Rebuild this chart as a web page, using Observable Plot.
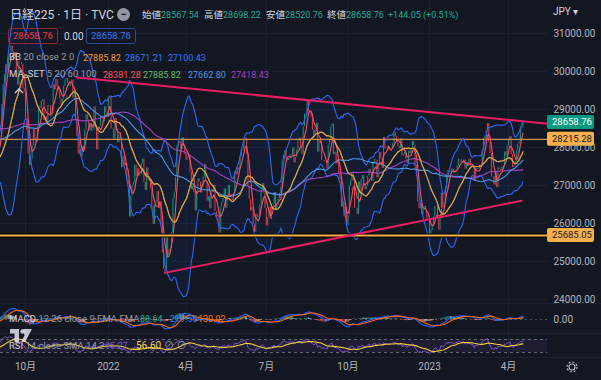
<!DOCTYPE html>
<html><head><meta charset="utf-8">
<script src="https://cdn.jsdelivr.net/npm/d3@7"></script>
<script src="https://cdn.jsdelivr.net/npm/@observablehq/plot@0.6"></script>
<style>
html,body{margin:0;padding:0;background:#131722;}
#chart{position:relative;width:601px;height:380px;overflow:hidden;background:#131722;font-family:Roboto,"Noto Sans CJK JP",sans-serif;}
#chart svg{position:absolute;left:0;overflow:visible;}
.t{position:absolute;white-space:nowrap;font-size:10px;line-height:12px;color:#d1d4dc;}
.l{font-size:9.5px;}
.v{font-size:9px;}
.g{color:#9598a1;}
.box{position:absolute;height:16px;line-height:14px;font-size:9.5px;padding:0 4px;border:1px solid;border-radius:3px;box-sizing:border-box;}
.sep{position:absolute;left:0;width:601px;height:1px;background:#1f2330;}
</style></head><body><div id="chart"></div>
<script>
// ---------- data ----------
const months = ["2021-04","2021-05","2021-06","2021-07","2021-08","2021-09","2021-10","2021-11","2021-12",
  "2022-01","2022-02","2022-03","2022-04","2022-05","2022-06","2022-07","2022-08","2022-09","2022-10","2022-11","2022-12",
  "2023-01","2023-02","2023-03","2023-04"];
const closes = [
  [29388,29854,30089,29696,29730,29708,29768,29538,29751,29620,29642,29683,29685,29100,28508,29188,29020,29126,28991,29053,28812],
  [29331,29357,29518,28608,28147,27448,28084,27824,28406,28044,28098,28317,28364,28553,28642,28549,29149,28860],
  [28814,28946,29058,28941,29019,28963,28860,28958,28948,29161,29441,29291,29018,28964,28010,28884,28874,29066,28875,29048,28812,28791],
  [28707,28783,28598,28643,28366,27940,28118,28569,28718,28608,28279,28003,27652,27388,27548,27970,27833,27581,27782,27283],
  [27781,27641,27584,27728,27820,27888,28070,28015,27977,27523,27585,27424,27281,27013,27494,27732,27724,27742,27641,27789,28089],
  [28451,28543,29128,29659,29916,30181,30008,30381,30447,30670,30511,30323,30500,29839,29639,30248,30240,30183,29544,29452],
  [28771,28444,27822,27528,27678,28048,28498,28230,28140,28550,29068,29025,29215,29255,28708,28804,28600,29106,29098,28820,28892],
  [29647,29520,29794,29611,29507,29285,29106,29277,29609,29776,29808,29688,29598,29745,29774,29302,29499,28751,28283,27821],
  [27935,27753,28029,27927,28455,28860,28725,28437,28640,28432,28459,29066,28545,27937,28517,28562,28798,28782,28676,29069,28906,28791],
  [29301,29332,28487,28478,28222,28765,28489,28124,28333,28257,27467,27772,27522,27588,27131,27011,26170,26717,27001],
  [27078,27533,27241,27439,27248,27284,27579,27696,27079,26865,27460,27232,27122,26910,26449,25970,26476,26526],
  [26844,26393,26577,25985,25221,24790,24717,25690,25163,25307,25346,25762,26652,26827,27224,28040,28110,28149,27943,28252,28027,27821],
  [27665,27736,27787,27350,26888,26985,26821,26334,26843,27172,27093,26799,26985,27217,27553,27105,26590,26700,26386,26847],
  [26818,27003,26319,26167,26213,25748,26427,26547,26659,26911,26402,26739,27001,26748,26677,26604,26781,27369,27279],
  [27457,27413,27761,27915,27943,28234,28246,27824,26987,26629,26326,26431,25963,25771,26246,26149,26171,26491,26871,27049,26804,26393],
  [25935,26153,26423,26107,26490,26517,26812,26336,26478,26643,26788,26961,27680,27803,27915,27699,27655,27715,27815,27801],
  [27993,27594,27742,27932,28175,28249,27999,27819,28546,28871,28868,29222,28942,28930,28794,28452,28313,28479,28641,27878,28195,28091],
  [27661,27650,27619,27626,27430,28065,28214,28542,28614,27818,27875,27567,27688,27313,27153,26431,26571,26173,26422,25937],
  [26215,26992,27120,27311,27116,26401,26397,26237,27090,26775,27156,27257,27006,26890,26974,27250,27431,27345,27105,27587],
  [27678,27663,27199,27527,27872,27716,27446,28263,27963,27990,28028,27930,27899,27944,28115,28383,28283,28162,28027,27968],
  [28226,27777,27820,27885,27686,27574,27901,27842,27954,28156,28051,27527,27237,26568,26387,26507,26235,26405,26447,26340,26093,26094],
  [25716,25820,25973,26175,26446,26449,26119,25822,26138,26791,26405,26553,26906,27299,27395,27362,27382,27433,27327],
  [27346,27402,27509,27693,27685,27606,27584,27670,27427,27602,27501,27696,27513,27531,27473,27104,27453,27423,27445],
  [27516,27498,27927,28237,28309,28444,28623,28143,27832,27222,27229,27010,27333,26945,27466,27419,27385,27476,27518,27883,27782,28041],
  [28188,28287,27813,27472,27518,27633,27923,28082,28156,28493,28514,28658.76]
];
const priceTicks = [24000,25000,26000,27000,28000,29000,30000,31000];
const levels = [28215.28, 25685.05];
const lastPrice = 28658.76;
const upperTrend = [{month:"2021-11", bar:18, v:29842}, {month:"2023-04", bar:11, v:28690}];
const lowerTrend = [{month:"2022-03", bar:6, v:24700}, {month:"2023-04", bar:10, v:26600}];
const headerLabels = ["始値","高値","安値","終値"];
const headerValues = ["28567.54","28698.22","28520.76","28658.76"];
const headerChange = "+144.05 (+0.51%)";
const bbValues = ["27885.82","28671.21","27100.43"];
const maValues = ["28381.28","27885.82","27662.80","27418.43"];
const macdValues = ["88.64","219.56","130.92"];
const rsiValues = ["65.27","56.60"];

// ---------- colors ----------
const BG="#131722", TXT="#b2b5be", UP="#089981", DN="#f23645", BB="#2f66f2", BASIS="#f59a3a",
  MA5="#f7525f", MA20="#4caf50", MA60="#4a9be8", MA100="#a540c4", PINK="#e91e63", LVL="#f7b04b", GRID="#1c2030";
const FONT = 'Roboto,"Noto Sans CJK JP",sans-serif';

// ---------- derived series ----------
const bars = [];
months.forEach((m, mi) => closes[mi].forEach((c, bi) => bars.push({i: bars.length, month: m, bar: bi, close: c})));
bars.forEach((d, i) => { d.open = i ? bars[i-1].close : d.close; });
const C = bars.map(d => d.close);
const sma = (arr, n) => arr.map((_, i) => i < n-1 ? NaN : d3.mean(arr.slice(i-n+1, i+1)));
const sd = (arr, n) => arr.map((_, i) => { if (i < n-1) return NaN; const s = arr.slice(i-n+1, i+1), m = d3.mean(s); return Math.sqrt(d3.mean(s, v => (v-m)**2)); });
const ema = (arr, n) => { const a = 2/(n+1); let p; return arr.map((v, i) => p = (i === 0 ? v : a*v + (1-a)*p)); };
const m5 = sma(C,5), m20 = sma(C,20), m60 = sma(C,60), m100 = sma(C,100), s20 = sd(C,20);
const e12 = ema(C,12), e26 = ema(C,26);
const macd = C.map((_, i) => e12[i] - e26[i]);
const sig = ema(macd, 9);
let up = 0, dn = 0;
const rsi = C.map((c, i) => {
  if (i === 0) return NaN;
  const ch = c - C[i-1], u = Math.max(ch, 0), d = Math.max(-ch, 0);
  if (i <= 14) { up += u/14; dn += d/14; if (i < 14) return NaN; }
  else { up = (up*13 + u)/14; dn = (dn*13 + d)/14; }
  return 100 - 100/(1 + up/dn);
});
const rsiMa = rsi.map((_, i) => i < 28 ? NaN : d3.mean(rsi.slice(i-13, i+1)));
bars.forEach((d, i) => Object.assign(d, {m5: m5[i], m20: m20[i], m60: m60[i], m100: m100[i],
  bbU: m20[i] + 2*s20[i], bbL: m20[i] - 2*s20[i], macd: macd[i], sig: sig[i], hist: macd[i]-sig[i], rsi: rsi[i], rsiMa: rsiMa[i]}));
bars.forEach((d, i) => { const p = i ? bars[i-1].hist : d.hist; d.hcol = d.hist >= 0 ? (d.hist >= p ? "#26a69a" : "#b2dfdb") : (d.hist <= p ? "#ff5252" : "#ffcdd2"); });

// ---------- x mapping (equal bar spacing, month labels) ----------
const iOct = bars.findIndex(d => d.month === "2021-10");
const iApr = bars.findIndex(d => d.month === "2023-04");
const k = (508 - 25) / (iApr - iOct);
const x0 = iOct - 25 / k, x1 = iOct + (547 - 25) / k;
const show = bars.filter(d => d.i >= Math.floor(x0) - 1);
const tickBars = bars.filter(d => d.bar === 0 && d.i >= x0 && ["01","04","07","10"].includes(d.month.slice(5)))
  .map(d => ({i: d.i, label: d.month.endsWith("-01") ? d.month.slice(0,4) : (+d.month.slice(5)) + "月"}));
const idx = a => bars.find(d => d.month === a.month && d.bar === a.bar).i;
const ut = upperTrend.map(a => ({i: idx(a), v: a.v}));
const slope = (ut[1].v - ut[0].v) / (ut[1].i - ut[0].i);
const upperLine = [ut[0], {i: x1, v: ut[0].v + slope * (x1 - ut[0].i)}];
const lowerLine = lowerTrend.map(a => ({i: idx(a), v: a.v}));

const root = document.getElementById("chart");
const style = {background: "transparent", overflow: "visible", fontFamily: FONT, fontSize: "10px", color: TXT};
const xs = {domain: [x0, x1], axis: null};

// ---------- main pane ----------
const main = Plot.plot({
  width: 601, height: 304, marginLeft: 0, marginRight: 54, marginTop: 0, marginBottom: 0,
  x: xs, y: {domain: [23868, 31868], axis: null}, style,
  marks: [
    Plot.ruleY(priceTicks, {stroke: GRID}),
    Plot.ruleX(tickBars, {x: "i", stroke: GRID}),
    Plot.areaY(show, {x: "i", y1: "bbL", y2: "bbU", fill: "#2962ff", fillOpacity: 0.07}),
    Plot.ruleX(show.filter(d => d.close >= d.open), {x: "i", y1: "open", y2: "close", stroke: UP, strokeWidth: 1}),
    Plot.ruleX(show.filter(d => d.close < d.open), {x: "i", y1: "open", y2: "close", stroke: DN, strokeWidth: 1}),
    Plot.ruleY([levels[0]], {stroke: LVL, strokeWidth: 1}),
    Plot.lineY(show, {x: "i", y: "bbU", stroke: BB, strokeWidth: 1.1}),
    Plot.lineY(show, {x: "i", y: "bbL", stroke: BB, strokeWidth: 1.1}),
    Plot.lineY(show, {x: "i", y: "m100", stroke: MA100, strokeWidth: 1.1}),
    Plot.lineY(show, {x: "i", y: "m60", stroke: MA60, strokeWidth: 1.1}),
    Plot.lineY(show, {x: "i", y: "m5", stroke: MA5, strokeWidth: 1.1}),
    Plot.lineY(show, {x: "i", y: "m20", stroke: MA20, strokeWidth: 1.1}),
    Plot.lineY(show, {x: "i", y: "m20", stroke: BASIS, strokeWidth: 1.1}),
    Plot.ruleY([levels[1]], {stroke: "#000", strokeWidth: 4}),
    Plot.ruleY([levels[1]], {stroke: LVL, strokeWidth: 2}),
    Plot.line(upperLine, {x: "i", y: "v", stroke: PINK, strokeWidth: 2}),
    Plot.line(lowerLine, {x: "i", y: "v", stroke: PINK, strokeWidth: 2}),
    Plot.text(priceTicks, {y: d => d, text: d => d.toFixed(2), frameAnchor: "right", dx: 6, textAnchor: "start", fill: TXT})
  ]
});
main.style.top = "0px";
root.appendChild(main);
const ys = main.scale("y");
const boxes = [{v: levels[0], fill: LVL, text: BG}, {v: levels[1], fill: LVL, text: BG}, {v: lastPrice, fill: UP, text: "#ffffff"}];
const bg = d3.select(main).append("g");
boxes.forEach(b => {
  const y = ys.apply(b.v);
  bg.append("rect").attr("x", 547).attr("y", y - 7).attr("width", 47).attr("height", 14).attr("rx", 2).attr("fill", b.fill);
  bg.append("text").attr("x", 552).attr("y", y).attr("dy", "0.35em").attr("fill", b.text).attr("text-anchor", "start")
    .attr("font-size", 9.5).attr("font-family", FONT).text(b.v.toFixed(2));
});

// ---------- MACD pane ----------
const macdPlot = Plot.plot({
  width: 601, height: 30, marginLeft: 0, marginRight: 54, marginTop: 0, marginBottom: 0,
  x: xs, y: {domain: [-850, 850], range: [28, 2], axis: null}, style,
  marks: [
    Plot.ruleX(tickBars, {x: "i", stroke: GRID}),
    Plot.ruleY([0], {stroke: "#787b86", strokeOpacity: 0.6, strokeDasharray: "2,3"}),
    Plot.ruleX(show, {x: "i", y1: 0, y2: "hist", stroke: "hcol", strokeWidth: 1, strokeOpacity: 0.8}),
    Plot.lineY(show, {x: "i", y: "macd", stroke: "#2962ff", strokeWidth: 1.1}),
    Plot.lineY(show, {x: "i", y: "sig", stroke: "#ff6d00", strokeWidth: 1.1}),
    Plot.text([0], {y: d => d, text: () => "0.00", frameAnchor: "right", dx: 6, textAnchor: "start", fill: TXT})
  ]
});
macdPlot.style.top = "304px";
root.appendChild(macdPlot);

// ---------- RSI pane ----------
const rsiPlot = Plot.plot({
  width: 601, height: 24, marginLeft: 0, marginRight: 54, marginTop: 0, marginBottom: 0,
  x: xs, y: {domain: [0, 100], range: [27.75, -4.75], axis: null}, style,
  marks: [
    Plot.ruleX(tickBars, {x: "i", stroke: GRID}),
    Plot.rect([0], {x1: x0, x2: x1, y1: 30, y2: 70, fill: "#7e57c2", fillOpacity: 0.1}),
    Plot.ruleY([30, 70], {stroke: "#787b86", strokeDasharray: "3,3", strokeOpacity: 0.8}),
    Plot.lineY(show, {x: "i", y: "rsi", stroke: "#7e57c2", strokeWidth: 1}),
    Plot.lineY(show, {x: "i", y: "rsiMa", stroke: "#f7d23c", strokeWidth: 1.1})
  ]
});
rsiPlot.style.top = "334px";
root.appendChild(rsiPlot);

// ---------- time axis ----------
const xPlot = Plot.plot({
  width: 601, height: 22, marginLeft: 0, marginRight: 54, marginTop: 0, marginBottom: 0,
  x: xs, y: {axis: null}, style,
  marks: [Plot.text(tickBars, {x: "i", text: "label", frameAnchor: "middle", fill: TXT})]
});
xPlot.style.top = "355px";
root.appendChild(xPlot);

// ---------- separators & overlays ----------
[303, 333, 357].forEach(y => { const s = document.createElement("div"); s.className = "sep"; s.style.top = y + "px"; root.appendChild(s); });
function add(html, left, top, cls = "t", color) { const e = document.createElement("div"); e.className = cls; e.style.left = left + "px"; e.style.top = top + "px"; e.innerHTML = html; if (color) e.style.color = color; root.appendChild(e); return e; }
const title = add("日経225 · 1日 · TVC", 10, 8); title.style.fontSize = "12px"; title.style.lineHeight = "14px";
const minus = add("−", 117, 8); Object.assign(minus.style, {width: "13px", height: "13px", borderRadius: "50%", background: "#9598a1", color: BG, textAlign: "center", lineHeight: "13px", fontSize: "11px", fontWeight: "bold"});
[142, 204, 266, 327].forEach((x, j) => {
  const e = add(`${headerLabels[j]}<span style="color:#22ab94;font-size:9px">${headerValues[j]}</span>`, x, 9);
  e.style.fontSize = "9.5px";
});
add(headerChange, 388, 9, "t v", "#22ab94").style.lineHeight = "13px";
add("JPY ▾", 553, 6);
add(`<span style="color:${DN}">${lastPrice.toFixed(2)}</span>`, 8, 28, "box").style.borderColor = "#8c2a35";
add("0.00", 64, 30).style.lineHeight = "13px";
add(`<span style="color:#3179f5">${lastPrice.toFixed(2)}</span>`, 86, 28, "box").style.borderColor = "#2a4a9a";
// indicator legends
add(`BB <span class="g">20 close 2 0</span>`, 9, 51, "t l");
[83, 125, 168].forEach((x, j) => add(bbValues[j], x, 51.5, "t v", [BASIS, "#3179f5", "#3179f5"][j]));
add(`MA_SET <span class="g">5 20 60 100</span>`, 9, 68, "t l");
[103, 143, 188, 231].forEach((x, j) => add(maValues[j], x, 68.5, "t v", [MA5, "#66bb6a", MA60, MA100][j]));
add(`<svg width="10" height="7" style="position:static"><polyline points="1,6 5,2 9,6" fill="none" stroke="#d1d4dc" stroke-width="1.3"/></svg>`, 14, 85);
add(`MACD <span class="g">12 26 close 9 EMA EMA</span>`, 9, 312.5, "t l");
[140, 170, 198].forEach((x, j) => add(macdValues[j], x, 313, "t v", ["#22ab94", "#3179f5", "#ff6d00"][j]));
add(`<svg width="22" height="13" style="position:static"><path d="M0,0h9v13h-4.5v-8.5h-4.5z M13,0h9l-7,13h-4l3.5-6.5z" fill="#e0e3eb" opacity="0.85"/><circle cx="12.5" cy="2.5" r="2.2" fill="#e0e3eb" opacity="0.85"/></svg>`, 10, 329);
add(`RSI <span class="g">14 close SMA 14 2</span>`, 9, 339.5, "t l");
add(rsiValues[0], 105, 340, "t v", "#7e57c2");
add(rsiValues[1], 136, 339.5, "t", "#f7d23c");
add("⊘ ⊘", 164, 339.5, "t g");
add(`<svg width="12" height="12" style="position:static"><circle cx="6" cy="6" r="3" fill="none" stroke="${TXT}" stroke-width="1.2"/><circle cx="6" cy="6" r="5" fill="none" stroke="${TXT}" stroke-width="1.2" stroke-dasharray="2,1.9"/></svg>`, 566, 361);
</script></body></html>
